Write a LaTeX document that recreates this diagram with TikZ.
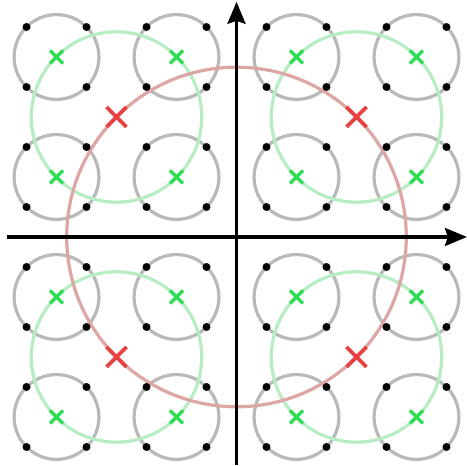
\documentclass[tikz,border=0pt]{standalone}
\usetikzlibrary{arrows.meta}
\definecolor{grayc}{RGB}{185,185,185}
\definecolor{greenc}{RGB}{183,237,195}
\definecolor{greenx}{RGB}{45,222,85}
\definecolor{redc}{RGB}{222,165,165}
\definecolor{redx}{RGB}{232,65,65}
\begin{document}
\begin{tikzpicture}[x=60pt,y=60pt,
  smallcirc/.style={draw=grayc,line width=3.2pt},
  bigcirc/.style={draw=greenc,line width=3.2pt},
  hugecirc/.style={draw=redc,line width=3.2pt},
  axis/.style={draw=black,line width=3.2pt,-{Stealth[length=22pt,width=18pt,inset=3pt]}},
  dotmark/.style={fill=black},
  gcross/.style={draw=greenx,line width=3.4pt},
  rcross/.style={draw=redx,line width=3.8pt}]
\useasboundingbox (-3.942,-3.817) rectangle (3.842,3.95);
% gray circles
\foreach \x in {-3,-1,1,3}
  \foreach \y in {-3,-1,1,3}
    \draw[smallcirc] (\x,\y) circle (0.707);
% green circles
\foreach \x in {-2,2}
  \foreach \y in {-2,2}
    \draw[bigcirc] (\x,\y) circle (1.42);
% red circle
\draw[hugecirc] (0,0) circle (2.83);
% axes
\coordinate (xl) at (-3.83,0);
\coordinate (xr) at (3.84,0);
\coordinate (yb) at (0,-3.8);
\coordinate (yt) at (0,3.92);
\draw[axis] (xl) -- (xr);
\draw[axis] (yb) -- (yt);
% dots
\foreach \x in {-3.5,-2.5,-1.5,-0.5,0.5,1.5,2.5,3.5}
  \foreach \y in {-3.5,-2.5,-1.5,-0.5,0.5,1.5,2.5,3.5}
    \fill[dotmark] (\x,\y) circle (4pt);
% green crosses
\foreach \x in {-3,-1,1,3}
  \foreach \y in {-3,-1,1,3}
    \draw[gcross] ([shift={(-6.5pt,-6.5pt)}]\x,\y) -- ([shift={(6.5pt,6.5pt)}]\x,\y)
                  ([shift={(-6.5pt,6.5pt)}]\x,\y) -- ([shift={(6.5pt,-6.5pt)}]\x,\y);
% red crosses
\foreach \x in {-2,2}
  \foreach \y in {-2,2}
    \draw[rcross] ([shift={(-10pt,-10pt)}]\x,\y) -- ([shift={(10pt,10pt)}]\x,\y)
                  ([shift={(-10pt,10pt)}]\x,\y) -- ([shift={(10pt,-10pt)}]\x,\y);
\end{tikzpicture}
\end{document}
